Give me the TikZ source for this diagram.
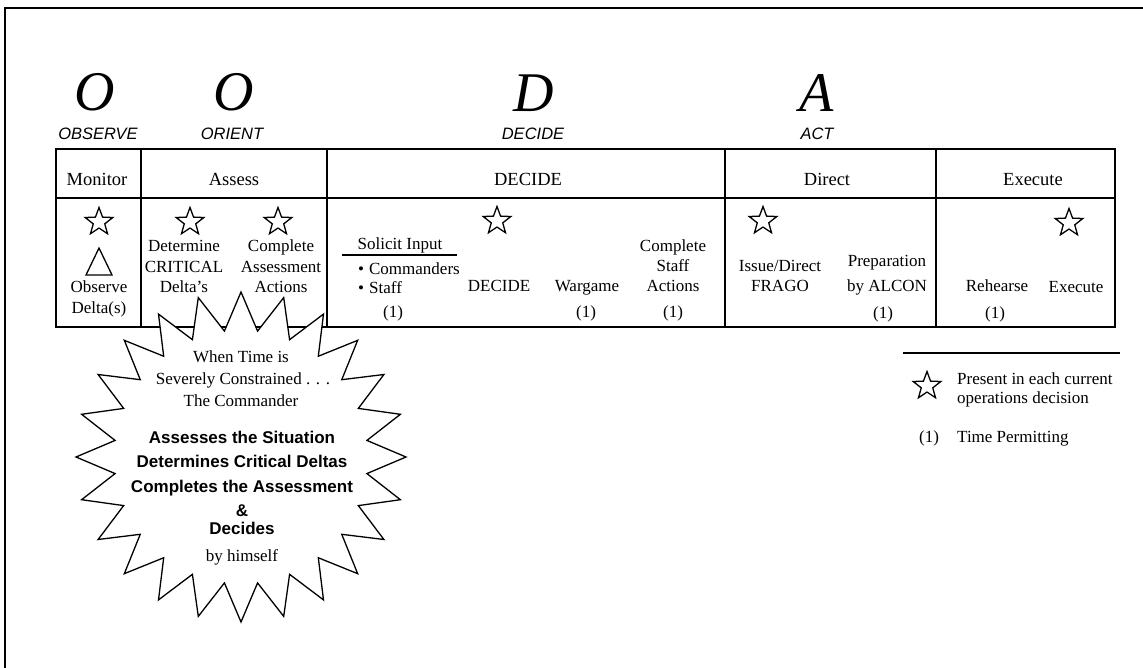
\documentclass[tikz,border=0pt]{standalone}
\usepackage{fontspec}
\setmainfont{Liberation Serif}
\setsansfont{Liberation Sans}
\usetikzlibrary{shapes.geometric}
\begin{document}
\begin{tikzpicture}[x=1pt,y=-1pt,
  rule/.style={line width=1.8pt},
  txt/.style={font=\fontsize{17}{20}\selectfont, inner sep=0pt, anchor=base},
  hdr/.style={font=\fontsize{18.5}{22}\selectfont, inner sep=0pt, anchor=base},
  letter/.style={font=\fontsize{56}{60}\selectfont\itshape, inner sep=0pt, anchor=base},
  phase/.style={font=\sffamily\itshape\fontsize{16.5}{20}\selectfont, inner sep=0pt, anchor=base},
  boldline/.style={font=\sffamily\bfseries\fontsize{17}{20}\selectfont, inner sep=0pt, anchor=base},
  starmark/.style={draw, star, star points=5, star point ratio=2.4, minimum size=29pt, inner sep=0pt, line width=1.3pt}
]
\path[use as bounding box] (0,0) rectangle (1143,668);

% page frame
\draw[rule] (5,668) -- (5,8) -- (1143,8);

% OODA letters and phase names
\node[letter] (lo1) at (95,111) {O};
\node[letter] (lo2) at (234,111) {O};
\node[letter] (ld)  at (534,112) {D};
\node[letter] (la)  at (817,112) {A};
\node[phase] (pobs) at (98,140) {OBSERVE};
\node[phase] (pori) at (232,140) {ORIENT};
\node[phase] (pdec) at (533,140) {DECIDE};
\node[phase] (pact) at (817,140) {ACT};

% table grid
\draw[rule] (56,149) rectangle (1115,327);
\draw[rule] (56,198) -- (1115,198);
\draw[rule] (141,149) -- (141,327);
\draw[rule] (327,149) -- (327,327);
\draw[rule] (725,149) -- (725,327);
\draw[rule] (936,149) -- (936,327);

% column headers
\node[hdr] (hmon) at (97,186) {Monitor};
\node[hdr] (hass) at (234,186) {Assess};
\node[hdr] (hdec) at (528,186) {DECIDE};
\node[hdr] (hdir) at (827,186) {Direct};
\node[hdr] (hexe) at (1033,186) {Execute};

% Monitor column
\node[starmark] (s1) at (99,222) {};
\draw[line width=1.3pt] (86,275) -- (99,248) -- (112,275) -- cycle;
\node[txt] (obs1) at (99,293) {Observe};
\node[txt] (obs2) at (99,313) {Delta(s)};

% Assess column
\node[starmark] (s2) at (190,222) {};
\node[starmark] (s3) at (278,222) {};
\node[txt] (det1) at (184,252) {Determine};
\node[txt] (det2) at (184,273) {CRITICAL};
\node[txt] (det3) at (184,293) {Delta’s};
\node[txt] (cmp1) at (281,252) {Complete};
\node[txt] (cmp2) at (281,273) {Assessment};
\node[txt] (cmp3) at (281,293) {Actions};

% DECIDE column
\node[starmark] (s4) at (497,221) {};
\node[txt] (sol) at (400,250) {Solicit Input};
\draw[line width=1.3pt] (342,255) -- (457,255);
\node[txt, anchor=base west] (bul1) at (358,275) {\textbullet\hspace{5pt}Commanders};
\node[txt, anchor=base west] (bul2) at (358,294) {\textbullet\hspace{5pt}Staff};
\node[txt] (t1a) at (393,317) {(1)};
\node[txt] (dcd) at (499,292) {DECIDE};
\node[txt] (war) at (587,292) {Wargame};
\node[txt] (t1b) at (586,317) {(1)};
\node[txt] (cs1) at (673,252) {Complete};
\node[txt] (cs2) at (673,272) {Staff};
\node[txt] (cs3) at (673,292) {Actions};
\node[txt] (t1c) at (673,317) {(1)};

% Direct column
\node[starmark] (s5) at (763,221) {};
\node[txt] (iss1) at (780,272) {Issue/Direct};
\node[txt] (iss2) at (780,292) {FRAGO};
\node[txt] (prep1) at (887,267) {Preparation};
\node[txt] (prep2) at (887,292) {by ALCON};
\node[txt] (t1d) at (883,319) {(1)};

% Execute column
\node[starmark] (s6) at (1069,223) {};
\node[txt] (reh) at (997,292) {Rehearse};
\node[txt] (t1e) at (995,319) {(1)};
\node[txt] (exe) at (1076,293) {Execute};

% starburst callout
\draw[line width=1.3pt, fill=white, shift={(241,457)}] (0:165)
  \foreach \i in {1,...,23} { -- (\i*15-7.5:127) -- (\i*15:165) } -- (352.5:127) -- cycle;
\node[txt] (w1) at (241,362) {When Time is};
\node[txt] (w2) at (243,384) {Severely Constrained . . .};
\node[txt] (w3) at (241,406) {The Commander};
\node[boldline] (b1) at (242,443) {Assesses the Situation};
\node[boldline] (b2) at (242,467) {Determines Critical Deltas};
\node[boldline] (b3) at (242,492) {Completes the Assessment};
\node[boldline] (b4) at (242,516) {\&};
\node[boldline] (b5) at (242,534) {Decides};
\node[txt] (w4) at (242,561) {by himself};

% legend
\draw[line width=1.3pt] (903,353) -- (1120,353);
\node[starmark] (ls) at (927,386) {};
\node[txt, anchor=base west] (lg1) at (957,384) {Present in each current};
\node[txt, anchor=base west] (lg2) at (957,403) {operations decision};
\node[txt] (lg3) at (929,442) {(1)};
\node[txt, anchor=base west] (lg4) at (957,442) {Time Permitting};
\end{tikzpicture}
\end{document}
